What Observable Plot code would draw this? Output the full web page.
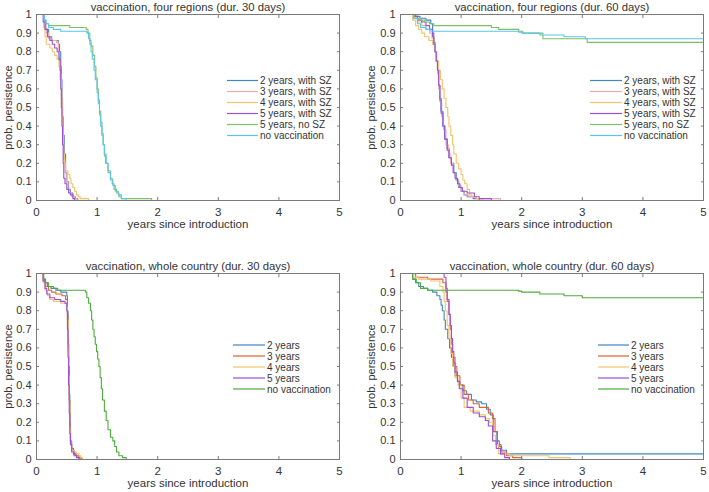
<!DOCTYPE html>
<html><head><meta charset="utf-8">
<script src="https://cdn.jsdelivr.net/npm/d3@7"></script>
<script src="https://cdn.jsdelivr.net/npm/@observablehq/plot@0.6"></script>
<style>
body{margin:0;background:#fff;font-family:"Liberation Sans",Arial,sans-serif}
#wrap{position:relative;width:709px;height:492px;overflow:hidden;background:#fff}
.panel{position:absolute}
.lg{position:absolute;left:0;top:0;overflow:visible}
</style></head>
<body><div id="wrap"></div>
<script>
// ---------- tick values ----------
const xTicks = [0, 1, 2, 3, 4, 5];
const yTicks = [0, 0.1, 0.2, 0.3, 0.4, 0.5, 0.6, 0.7, 0.8, 0.9, 1];

// ---------- titles / labels ----------
const titles = [
  "vaccination, four regions (dur. 30 days)",
  "vaccination, four regions (dur. 60 days)",
  "vaccination, whole country (dur. 30 days)",
  "vaccination, whole country (dur. 60 days)"
];
const xLabel = "years since introduction";
const yLabel = "prob. persistence";
const seriesFour = ["2 years, with SZ", "3 years, with SZ", "4 years, with SZ", "5 years, with SZ", "5 years, no SZ", "no vaccination"];
const seriesWhole = ["2 years", "3 years", "4 years", "5 years", "no vaccination"];

// ---------- four regions, 30 days: [years, prob] step points ----------
const fr30_2y = [[0.1,1],[0.12,0.96],[0.15,0.92],[0.2,0.88],[0.25,0.86],[0.36,0.84],[0.38,0.8],[0.4,0.72],[0.41,0.65],[0.42,0.55],[0.43,0.45],[0.44,0.35],[0.46,0.25],[0.48,0.15],[0.5,0.1],[0.53,0.06],[0.56,0.04],[0.6,0.02],[0.64,0.01],[0.68,0]];
const fr30_3y = [[0.1,1],[0.12,0.94],[0.16,0.9],[0.2,0.87],[0.26,0.86],[0.33,0.85],[0.36,0.8],[0.38,0.75],[0.4,0.68],[0.41,0.6],[0.42,0.5],[0.43,0.4],[0.44,0.3],[0.45,0.22],[0.47,0.15],[0.49,0.1],[0.52,0.06],[0.55,0.04],[0.58,0.02],[0.63,0.01],[0.67,0]];
const fr30_4y = [[0.1,1],[0.12,0.93],[0.14,0.88],[0.16,0.84],[0.22,0.82],[0.26,0.8],[0.3,0.78],[0.34,0.76],[0.37,0.72],[0.39,0.65],[0.41,0.55],[0.42,0.45],[0.43,0.35],[0.45,0.25],[0.46,0.2],[0.48,0.16],[0.52,0.14],[0.55,0.12],[0.57,0.09],[0.6,0.07],[0.63,0.05],[0.66,0.03],[0.69,0.02],[0.72,0.01],[0.86,0]];
const fr30_5y = [[0.1,1],[0.11,0.96],[0.14,0.92],[0.18,0.88],[0.22,0.86],[0.26,0.84],[0.3,0.82],[0.34,0.8],[0.37,0.76],[0.39,0.7],[0.4,0.6],[0.41,0.5],[0.42,0.4],[0.43,0.3],[0.44,0.2],[0.45,0.12],[0.47,0.09],[0.5,0.06],[0.53,0.04],[0.56,0.03],[0.6,0.01],[0.63,0]];
const fr30_noSZ = [[0.1,1],[0.12,0.97],[0.15,0.95],[0.2,0.94],[0.55,0.93],[0.82,0.92],[0.85,0.9],[0.88,0.86],[0.9,0.83],[0.93,0.78],[0.96,0.72],[0.98,0.66],[1.0,0.6],[1.02,0.54],[1.04,0.48],[1.06,0.42],[1.08,0.36],[1.1,0.3],[1.12,0.24],[1.14,0.2],[1.18,0.16],[1.22,0.12],[1.25,0.09],[1.28,0.06],[1.32,0.04],[1.36,0.02],[1.4,0.01],[1.9,0]];
const fr30_noVac = [[0.1,1],[0.13,0.97],[0.16,0.95],[0.2,0.93],[0.28,0.92],[0.4,0.91],[0.83,0.9],[0.86,0.87],[0.88,0.84],[0.9,0.8],[0.92,0.76],[0.95,0.7],[0.97,0.65],[1.0,0.58],[1.02,0.52],[1.04,0.46],[1.06,0.4],[1.08,0.35],[1.1,0.3],[1.12,0.25],[1.15,0.2],[1.18,0.15],[1.22,0.11],[1.26,0.08],[1.3,0.05],[1.35,0.03],[1.4,0.01],[1.48,0]];

// ---------- four regions, 60 days ----------
const fr60_2y = [[0.17,1],[0.25,0.99],[0.32,0.98],[0.42,0.97],[0.5,0.95],[0.53,0.9],[0.55,0.85],[0.57,0.8],[0.59,0.75],[0.61,0.7],[0.63,0.62],[0.65,0.55],[0.67,0.48],[0.7,0.4],[0.73,0.33],[0.77,0.28],[0.8,0.23],[0.84,0.2],[0.88,0.15],[0.92,0.11],[0.96,0.07],[1.0,0.05],[1.05,0.03],[1.1,0.02],[1.2,0.01],[1.3,0]];
const fr60_3y = [[0.17,1],[0.22,0.98],[0.28,0.96],[0.35,0.94],[0.42,0.92],[0.48,0.9],[0.52,0.87],[0.55,0.84],[0.57,0.8],[0.59,0.75],[0.61,0.68],[0.63,0.6],[0.65,0.53],[0.68,0.45],[0.71,0.38],[0.75,0.3],[0.79,0.25],[0.83,0.2],[0.87,0.15],[0.91,0.11],[0.95,0.08],[1.0,0.05],[1.05,0.03],[1.12,0.02],[1.25,0.01],[1.65,0]];
const fr60_4y = [[0.17,1],[0.2,0.97],[0.25,0.94],[0.3,0.92],[0.35,0.9],[0.4,0.88],[0.47,0.86],[0.53,0.84],[0.57,0.8],[0.6,0.75],[0.63,0.7],[0.66,0.65],[0.69,0.6],[0.72,0.55],[0.75,0.5],[0.78,0.45],[0.8,0.4],[0.83,0.35],[0.86,0.3],[0.88,0.25],[0.92,0.2],[0.96,0.17],[1.0,0.14],[1.03,0.11],[1.06,0.09],[1.1,0.06],[1.14,0.03],[1.18,0.02],[1.25,0.01],[1.35,0]];
const fr60_5y = [[0.17,1],[0.22,0.99],[0.28,0.97],[0.35,0.96],[0.42,0.94],[0.48,0.92],[0.53,0.88],[0.55,0.84],[0.57,0.8],[0.59,0.75],[0.61,0.7],[0.63,0.62],[0.65,0.54],[0.67,0.47],[0.7,0.4],[0.73,0.33],[0.77,0.27],[0.8,0.23],[0.84,0.19],[0.87,0.15],[0.9,0.12],[0.94,0.09],[0.98,0.07],[1.02,0.05],[1.1,0.04],[1.22,0.02],[1.3,0.01],[1.5,0]];
const fr60_noSZ = [[0.17,1],[0.22,0.98],[0.3,0.97],[0.4,0.96],[0.48,0.95],[0.55,0.94],[1.5,0.93],[1.62,0.92],[1.95,0.91],[2.02,0.9],[2.35,0.87],[3.08,0.85],[5,0.85]];
const fr60_noVac = [[0.17,1],[0.22,0.98],[0.28,0.95],[0.33,0.93],[0.42,0.92],[0.5,0.91],[1.95,0.905],[2.0,0.9],[2.3,0.89],[2.7,0.88],[3.05,0.87],[5,0.87]];

// ---------- whole country, 30 days ----------
const wc30_2y = [[0.09,1],[0.11,0.97],[0.14,0.95],[0.18,0.93],[0.24,0.92],[0.32,0.91],[0.4,0.9],[0.5,0.88],[0.51,0.8],[0.52,0.65],[0.53,0.5],[0.54,0.35],[0.55,0.2],[0.56,0.1],[0.58,0.06],[0.61,0.03],[0.65,0.02],[0.69,0.01],[0.72,0]];
const wc30_3y = [[0.09,1],[0.11,0.96],[0.15,0.93],[0.2,0.91],[0.25,0.9],[0.32,0.89],[0.42,0.88],[0.48,0.86],[0.51,0.78],[0.52,0.62],[0.53,0.48],[0.54,0.32],[0.55,0.18],[0.56,0.09],[0.58,0.05],[0.62,0.03],[0.66,0.02],[0.7,0.01],[0.74,0]];
const wc30_4y = [[0.09,1],[0.11,0.95],[0.14,0.91],[0.18,0.88],[0.22,0.86],[0.28,0.85],[0.4,0.84],[0.5,0.82],[0.51,0.75],[0.52,0.6],[0.53,0.45],[0.54,0.3],[0.55,0.17],[0.565,0.08],[0.58,0.05],[0.62,0.04],[0.66,0.03],[0.7,0.02],[0.73,0.01],[0.76,0]];
const wc30_5y = [[0.09,1],[0.11,0.96],[0.14,0.92],[0.17,0.89],[0.22,0.87],[0.3,0.86],[0.4,0.85],[0.47,0.84],[0.5,0.8],[0.51,0.7],[0.52,0.55],[0.53,0.4],[0.54,0.25],[0.55,0.14],[0.56,0.08],[0.58,0.04],[0.62,0.02],[0.66,0.01],[0.7,0]];
const wc30_noVac = [[0.09,1],[0.12,0.97],[0.15,0.95],[0.2,0.93],[0.28,0.92],[0.35,0.91],[0.81,0.9],[0.83,0.87],[0.86,0.84],[0.89,0.8],[0.91,0.75],[0.93,0.7],[0.95,0.66],[0.97,0.62],[0.99,0.58],[1.01,0.54],[1.03,0.5],[1.05,0.44],[1.07,0.38],[1.09,0.32],[1.12,0.26],[1.15,0.21],[1.18,0.16],[1.22,0.12],[1.26,0.1],[1.29,0.07],[1.32,0.04],[1.36,0.02],[1.42,0.01],[1.48,0]];

// ---------- whole country, 60 days ----------
const wc60_2y = [[0.17,1],[0.2,0.97],[0.25,0.95],[0.3,0.93],[0.38,0.92],[0.45,0.91],[0.53,0.9],[0.6,0.88],[0.65,0.86],[0.67,0.83],[0.69,0.8],[0.72,0.75],[0.74,0.7],[0.78,0.65],[0.81,0.6],[0.84,0.55],[0.87,0.5],[0.9,0.45],[0.94,0.42],[0.98,0.4],[1.03,0.37],[1.09,0.35],[1.17,0.32],[1.25,0.31],[1.34,0.3],[1.42,0.27],[1.48,0.24],[1.53,0.15],[1.59,0.1],[1.63,0.07],[1.67,0.05],[1.75,0.03],[5,0.03]];
const wc60_3y = [[0.17,1],[0.25,0.98],[0.45,0.97],[0.7,0.95],[0.75,0.9],[0.77,0.85],[0.8,0.78],[0.82,0.7],[0.84,0.62],[0.86,0.55],[0.9,0.5],[0.93,0.45],[0.98,0.4],[1.05,0.35],[1.12,0.32],[1.2,0.3],[1.3,0.28],[1.45,0.25],[1.52,0.22],[1.56,0.15],[1.6,0.08],[1.66,0.04],[1.75,0.02],[1.85,0.01],[2.0,0]];
const wc60_4y = [[0.17,1],[0.22,0.98],[0.3,0.97],[0.5,0.96],[0.65,0.93],[0.7,0.9],[0.72,0.85],[0.74,0.8],[0.77,0.72],[0.8,0.65],[0.83,0.57],[0.86,0.5],[0.9,0.44],[0.95,0.4],[1.0,0.33],[1.05,0.28],[1.15,0.26],[1.3,0.24],[1.4,0.22],[1.47,0.2],[1.52,0.13],[1.57,0.08],[1.62,0.03],[1.8,0.02],[2.45,0.01],[2.8,0]];
const wc60_5y = [[0.17,1],[0.72,0.98],[0.75,0.92],[0.77,0.86],[0.8,0.78],[0.82,0.72],[0.84,0.65],[0.86,0.58],[0.88,0.52],[0.9,0.47],[0.94,0.42],[0.97,0.38],[1.03,0.33],[1.1,0.28],[1.2,0.25],[1.3,0.23],[1.4,0.21],[1.45,0.18],[1.52,0.1],[1.58,0.06],[1.65,0.03],[1.72,0.01],[1.8,0]];
const wc60_noVac = [[0.17,1],[0.2,0.97],[0.26,0.95],[0.33,0.92],[0.45,0.91],[1.95,0.905],[2.0,0.9],[2.3,0.89],[2.7,0.88],[3.0,0.87],[5,0.87]];

// ---------- colours ----------
const colorsFour = ["#3f86c3", "#f4aaa8", "#f0c468", "#9a4fd6", "#82bd68", "#58c6ec"];
const colorsWhole = ["#3f86c3", "#e0603a", "#f2c46a", "#9a4fd6", "#4eaa3c"];

// ---------- layout ----------
const panels = [
  {title: titles[0], series: [fr30_2y, fr30_3y, fr30_4y, fr30_5y, fr30_noSZ, fr30_noVac], names: seriesFour, colors: colorsFour,
   left: 0, top: 0, m: [14, 15, 46, 36], yOff: 32, lg: {x: 227, y: 80.5, tx: 260}},
  {title: titles[1], series: [fr60_2y, fr60_3y, fr60_4y, fr60_5y, fr60_noSZ, fr60_noVac], names: seriesFour, colors: colorsFour,
   left: 355, top: 0, m: [14, 6, 46, 45], yOff: 33, lg: {x: 590, y: 80.5, tx: 624}},
  {title: titles[2], series: [wc30_2y, wc30_3y, wc30_4y, wc30_5y, wc30_noVac], names: seriesWhole, colors: colorsWhole,
   left: 0, top: 246, m: [27, 15, 33, 36], yOff: 32, lg: {x: 233, y: 345, tx: 267}},
  {title: titles[3], series: [wc60_2y, wc60_3y, wc60_4y, wc60_5y, wc60_noVac], names: seriesWhole, colors: colorsWhole,
   left: 355, top: 246, m: [27, 6, 33, 45], yOff: 33, lg: {x: 598, y: 345, tx: 631}}
];

const wrap = document.getElementById("wrap");
const axisColor = "#7a7a7a";
const textColor = "#333";
const fontStack = '"Liberation Sans", Arial, sans-serif';

for (const p of panels) {
  const data = p.series.flatMap((s, i) => s.map(([x, y]) => ({x, y, k: p.names[i]})));
  const chart = Plot.plot({
    width: 354, height: 246,
    marginTop: p.m[0], marginRight: p.m[1], marginBottom: p.m[2], marginLeft: p.m[3],
    style: {fontFamily: fontStack, fontSize: "11px", color: textColor, background: "transparent", overflow: "visible"},
    x: {domain: [0, 5]},
    y: {domain: [0, 1]},
    color: {domain: p.names, range: p.colors},
    marks: [
      Plot.line(data, {x: "x", y: "y", z: "k", stroke: "k", curve: "step-after", strokeWidth: 1.1}),
      Plot.frame({stroke: axisColor, strokeWidth: 1}),
      Plot.axisX({ticks: xTicks, anchor: "bottom", tickSize: -3, tickPadding: 10, stroke: axisColor, fill: textColor,
        tickFormat: d => String(d),
        label: xLabel, labelAnchor: "center", labelOffset: 27, labelArrow: "none", fontSize: 11.5}),
      Plot.axisX({ticks: xTicks, anchor: "top", tickSize: -3, tickFormat: () => "", stroke: axisColor, label: null}),
      Plot.axisY({ticks: yTicks, anchor: "left", tickSize: -3, tickPadding: 8, stroke: axisColor, fill: textColor,
        tickFormat: d => String(+d.toFixed(1)),
        label: yLabel, labelAnchor: "center", labelOffset: p.yOff, labelArrow: "none", fontSize: 11}),
      Plot.axisY({ticks: yTicks, anchor: "right", tickSize: -3, tickFormat: () => "", stroke: axisColor, label: null}),
      Plot.text([p.title], {frameAnchor: "top", lineAnchor: "middle", dy: -7, fontSize: 11.3, fill: textColor, text: d => d})
    ]
  });
  const div = document.createElement("div");
  div.className = "panel";
  div.style.left = p.left + "px";
  div.style.top = p.top + "px";
  div.appendChild(chart);
  wrap.appendChild(div);

  // legend (drawn as an overlay svg)
  const svg = d3.create("svg").attr("class", "lg").attr("width", 709).attr("height", 492)
    .style("font-family", fontStack).style("font-size", "10px");
  p.names.forEach((name, i) => {
    const yy = p.lg.y + i * 11;
    svg.append("line").attr("x1", p.lg.x).attr("x2", p.lg.tx - 2).attr("y1", yy).attr("y2", yy)
      .attr("stroke", p.colors[i]).attr("stroke-width", 1.2);
    svg.append("text").attr("x", p.lg.tx).attr("y", yy).attr("dy", "0.36em").attr("fill", textColor).text(name);
  });
  wrap.appendChild(svg.node());
}
</script>
</body></html>
